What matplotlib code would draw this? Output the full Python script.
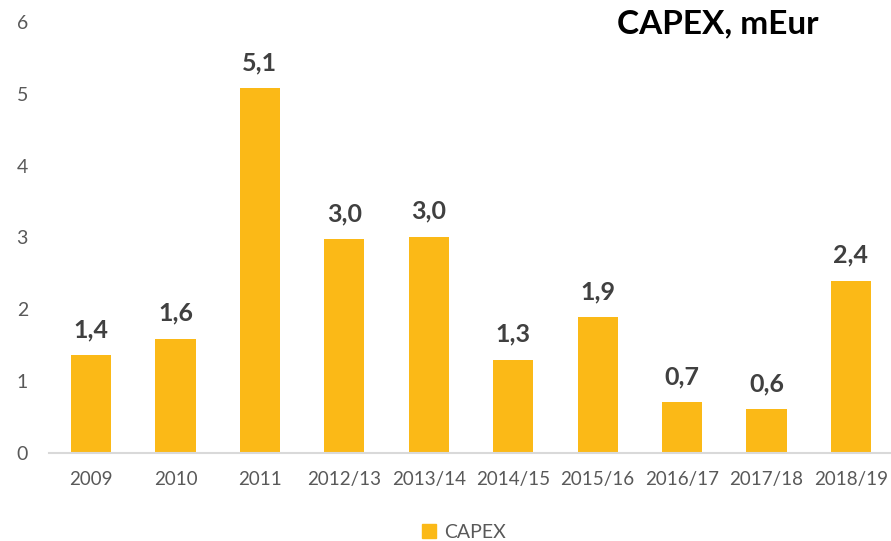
import matplotlib
matplotlib.use("Agg")
import matplotlib.pyplot as plt
from matplotlib.patches import Patch

categories = ["2009", "2010", "2011", "2012/13", "2013/14", "2014/15",
              "2015/16", "2016/17", "2017/18", "2018/19"]
capex = [1.36, 1.59, 5.08, 2.98, 3.01, 1.30, 1.89, 0.71, 0.61, 2.40]
yticks = [0, 1, 2, 3, 4, 5, 6]

plt.rcParams['font.family'] = ['Lato', 'DejaVu Sans']
BAR = '#FBB917'

fig = plt.figure(figsize=(8.91, 5.41), dpi=100)
left = 48.8 / 891
ax = fig.add_axes([left, 88 / 541, (893.2 - 48.8) / 891, (453 - 22) / 541])

x = list(range(len(categories)))
bars = ax.bar(x, capex, width=0.475, color=BAR, zorder=2)
ax.set_xlim(-0.5, len(categories) - 0.5)
ax.set_ylim(0, 6)
ax.set_yticks(yticks)
ax.set_yticklabels([str(t) for t in yticks], fontsize=14, color='#595959')
ax.set_xticks(x)
ax.set_xticklabels(categories, fontsize=13.5, color='#595959')
ax.tick_params(axis='both', length=0)
ax.tick_params(axis='y', pad=15)
ax.tick_params(axis='x', pad=13)
for s in ['top', 'right', 'left']:
    ax.spines[s].set_visible(False)
ax.spines['bottom'].set_color('#D9D9D9')
ax.spines['bottom'].set_linewidth(1.5)

for xi, v in zip(x, capex):
    ax.annotate(f"{v:.1f}".replace('.', ','), (xi, v), xytext=(0, 10),
                textcoords='offset points', ha='center', va='bottom',
                fontsize=18, fontweight='bold', color='#404040')

fig.text(718 / 891, 1 - 24 / 541, "CAPEX, mEur", ha='center', va='center',
         fontsize=24, fontweight='bold', color='black')

fig.legend(handles=[Patch(color=BAR, label='CAPEX')], loc='center',
           bbox_to_anchor=(464 / 891, 1 - 532 / 541), frameon=False,
           fontsize=14, labelcolor='#595959', handlelength=0.7,
           handleheight=0.7, handletextpad=0.4)

fig.savefig("out.png", dpi=100)
